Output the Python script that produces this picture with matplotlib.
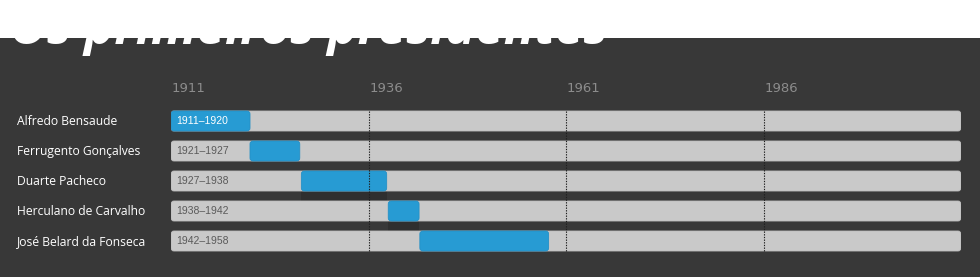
import matplotlib.pyplot as plt
from matplotlib.patches import FancyBboxPatch, Rectangle
from matplotlib.transforms import blended_transform_factory

names = ["Alfredo Bensaude", "Ferrugento Gonçalves", "Duarte Pacheco",
         "Herculano de Carvalho", "José Belard da Fonseca"]
starts = [1911, 1921, 1927.5, 1938.5, 1942.5]
ends = [1921, 1927.3, 1938.3, 1942.4, 1958.8]
range_labels = ["1911–1920", "1921–1927", "1927–1938", "1938–1942", "1942–1958"]
year_ticks = [1911, 1936, 1961, 1986]
axis_start, axis_end = 1911, 2011
title = "Os primeiros presidentes"

W, H = 980, 277
bg = "#383838"
blue = "#279bd3"
track = "#c9c9c9"

fig = plt.figure(figsize=(W / 100, H / 100), dpi=100, facecolor=bg)
# axes covering the track area in pixels: x 171..961, y 106..256
ax = fig.add_axes([171 / W, 1 - 256 / H, 790 / W, 150 / H])
ax.set_facecolor("none")
ax.set_xlim(axis_start, axis_end)
ax.set_ylim(len(names) - 0.5, -0.5)
ax.axis("off")

bh = 0.667
rx = 0.38  # rounding in years (~3px)
asp = 0.1 / rx

for i, (s, e) in enumerate(zip(starts, ends)):
    ax.add_patch(FancyBboxPatch((axis_start, i - bh / 2), axis_end - axis_start, bh,
                                boxstyle=f"round,pad=0,rounding_size={rx}",
                                mutation_aspect=asp, fc=track, ec="#bdbdbd",
                                lw=0.6, zorder=1))
    if i in (2, 3):
        ax.add_patch(Rectangle((s, i + bh / 2), e - s, 0.33, fc="#2f2f2f",
                               ec="none", zorder=0.5))
    ax.add_patch(FancyBboxPatch((s, i - bh / 2), e - s, bh,
                                boxstyle=f"round,pad=0,rounding_size={rx}",
                                mutation_aspect=asp, fc=blue, ec="#2590c6",
                                lw=0.6, zorder=2))
    ax.text(axis_start + 0.65, i, range_labels[i], va="center", ha="left",
            fontsize=7.5, family="Liberation Sans",
            color="white" if i == 0 else "#5a5a5a", zorder=4)

ax.vlines(year_ticks[1:], -bh / 2, len(names) - 1 + bh / 2, colors="#1e1e1e",
          linestyles=(0, (1.2, 1.2)), lw=0.8, zorder=3)

trans_x = blended_transform_factory(ax.transData, fig.transFigure)
for yr in year_ticks:
    ax.text(yr + 0.1, 1 - 88 / H, str(yr), transform=trans_x, ha="left",
            va="center", fontsize=9.5, color="#8c8c8c", family="DejaVu Sans")

trans_y = blended_transform_factory(fig.transFigure, ax.transData)
for i, n in enumerate(names):
    ax.text(17 / W, i + 0.03, n, transform=trans_y, ha="left", va="center",
            fontsize=8.7, color="white", family="Open Sans")

fig.text(10 / W, 1 - 44 / H, title, ha="left", va="baseline", fontsize=36.5,
         fontweight="bold", style="italic", family="Open Sans", color="white",
         zorder=3)
fig.patches.append(Rectangle((0, 1 - 38 / H), 1, 38 / H, transform=fig.transFigure,
                             fc="white", ec="none", zorder=10, figure=fig))

fig.savefig("out.png", dpi=100, facecolor=bg)
